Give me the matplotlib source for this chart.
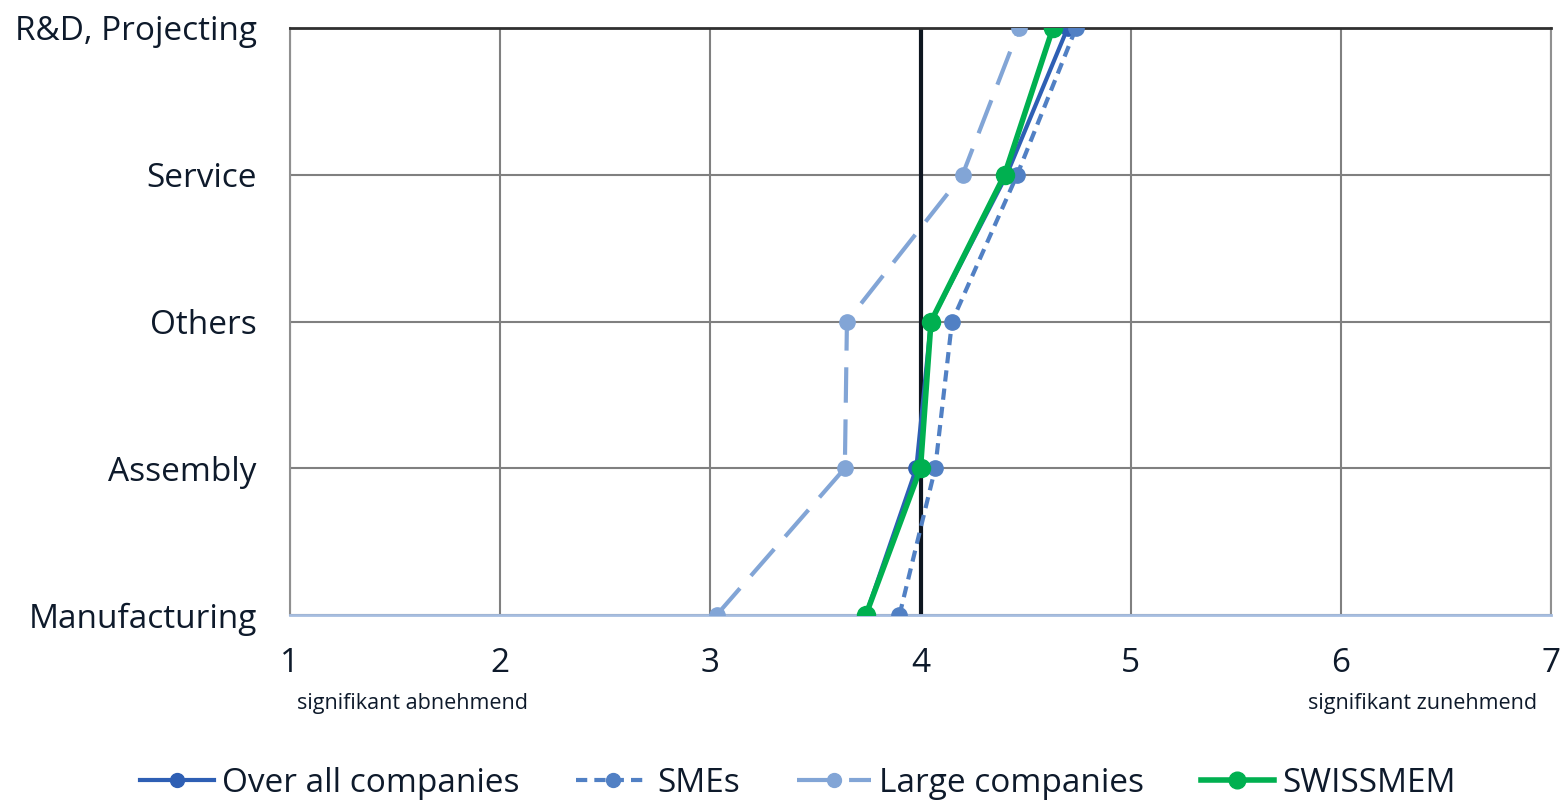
import matplotlib
matplotlib.use("Agg")
import matplotlib.pyplot as plt
from matplotlib.lines import Line2D

categories = ["Manufacturing", "Assembly", "Others", "Service", "R&D, Projecting"]
over_all = [3.74, 3.98, 4.05, 4.41, 4.70]
smes = [3.90, 4.07, 4.15, 4.46, 4.74]
large = [3.03, 3.64, 3.65, 4.20, 4.47]
swissmem = [3.74, 4.00, 4.05, 4.40, 4.63]
xticks = [1, 2, 3, 4, 5, 6, 7]

plt.rcParams['font.family'] = ['Open Sans', 'DejaVu Sans']
txt = '#0e1a2b'

fig = plt.figure(figsize=(15.65, 8.02), dpi=100)
ax = fig.add_axes([290/1565, 1-615/802, (1551-290)/1565, (615-28)/802])

y = list(range(len(categories)))
c_all = '#2e5fb4'
c_sme = '#5180c4'
c_large = '#82a5d6'
c_green = '#00b050'
ls_sme = (0, (2.7, 1.7))
ls_large = (0, (8.5, 4))

ax.plot(over_all, y, color=c_all, lw=3, marker='o', ms=11, zorder=3)
ax.plot(smes, y, color=c_sme, lw=3, ls=ls_sme, marker='o', ms=11, zorder=3)
ax.plot(large, y, color=c_large, lw=3, ls=ls_large, marker='o', ms=11, zorder=3)
ax.plot(swissmem, y, color=c_green, lw=4, marker='o', ms=13, zorder=4)

ax.axvline(4, color='#0e1620', lw=3, zorder=2.5)

ax.set_xlim(1, 7)
ax.set_ylim(0, len(categories) - 1)
ax.set_xticks(xticks)
ax.set_xticklabels([str(v) for v in xticks], fontsize=24, color=txt)
ax.set_yticks(y)
ax.set_yticklabels(categories, fontsize=24, color=txt)
ax.tick_params(axis='y', length=0, pad=24)
ax.tick_params(axis='x', length=0, pad=23)
ax.grid(True, color='#808080', lw=1.5, zorder=1)
ax.set_axisbelow(True)
for s in ['left', 'right']:
    ax.spines[s].set_color('#909090')
    ax.spines[s].set_linewidth(1.5)
ax.spines['top'].set_color('#303030')
ax.spines['top'].set_linewidth(2)
ax.spines['bottom'].set_color('#a6bde0')
ax.spines['bottom'].set_linewidth(2)

fig.text(297/1565, 1-704/802, "signifikant abnehmend", fontsize=15.5, color=txt, ha='left', va='center')
fig.text(1537/1565, 1-704/802, "signifikant zunehmend", fontsize=15.5, color=txt, ha='right', va='center')

handles = [
    Line2D([], [], color=c_all, lw=3, marker='o', ms=10),
    Line2D([], [], color=c_sme, lw=3, ls=ls_sme, marker='o', ms=10),
    Line2D([], [], color=c_large, lw=3, ls=ls_large, marker='o', ms=10),
    Line2D([], [], color=c_green, lw=4, marker='o', ms=12),
]
labels = ["Over all companies", "SMEs", "Large companies", "SWISSMEM"]
leg = fig.legend(handles, labels, loc='center', bbox_to_anchor=(798/1565, 1-783/802), ncol=4,
                 frameon=False, fontsize=24, handlelength=2.2, columnspacing=1.7, handletextpad=0.25)
for t in leg.get_texts():
    t.set_color(txt)

fig.savefig("out.png", dpi=100)
